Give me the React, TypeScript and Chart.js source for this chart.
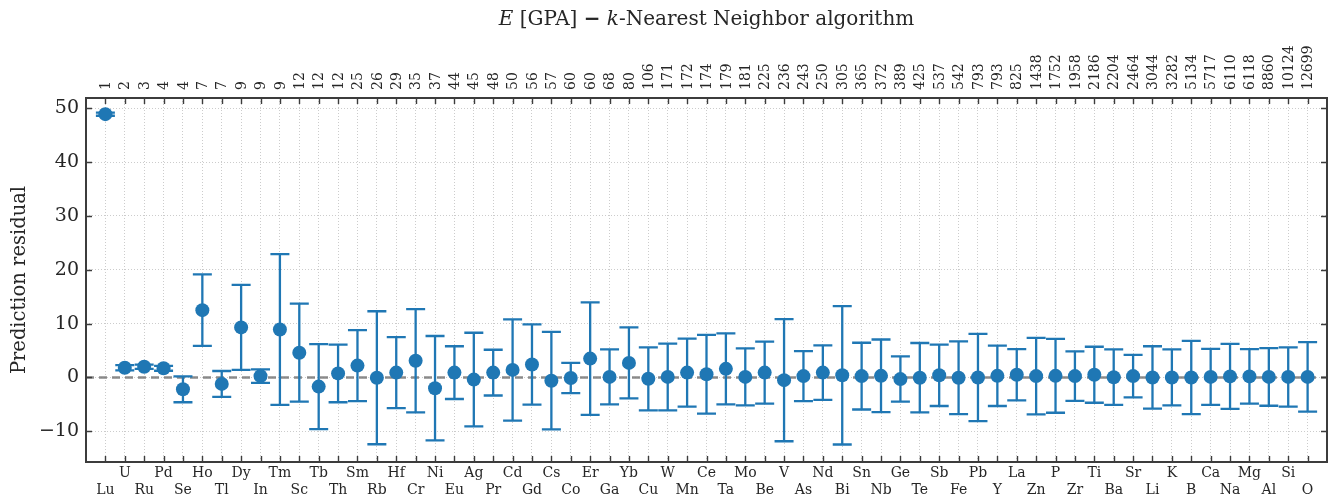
import React, { useEffect, useRef } from "react";
import { Chart, registerables } from "chart.js";

Chart.register(...registerables);

const elements = ["Lu","U","Ru","Pd","Se","Ho","Tl","Dy","In","Tm","Sc","Tb","Th","Sm","Rb","Hf","Cr","Ni","Eu","Ag","Pr","Cd","Gd","Cs","Co","Er","Ga","Yb","Cu","W","Mn","Ce","Ta","Mo","Be","V","As","Nd","Bi","Sn","Nb","Ge","Te","Sb","Fe","Pb","Y","La","Zn","P","Zr","Ti","Ba","Sr","Li","K","B","Ca","Na","Mg","Al","Si","O"];

const counts = [1,2,3,4,4,7,7,9,9,9,12,12,12,25,26,29,35,37,44,45,48,50,56,57,60,60,68,80,106,171,172,174,179,181,225,236,243,250,305,365,372,389,425,537,542,793,793,825,1438,1752,1958,2186,2204,2464,3044,3282,5134,5717,6110,6118,8860,10124,12699];

const residuals = [48.9,1.8,2.0,1.7,-2.2,12.5,-1.2,9.3,0.25,8.9,4.6,-1.7,0.75,2.2,-0.05,0.9,3.1,-2.0,0.9,-0.4,0.9,1.4,2.4,-0.6,-0.1,3.5,0.1,2.7,-0.25,0.1,0.9,0.6,1.6,0.1,0.9,-0.5,0.25,0.9,0.4,0.25,0.3,-0.3,-0.05,0.4,-0.05,0.0,0.3,0.5,0.25,0.3,0.25,0.5,0.05,0.25,0.0,0.0,0.0,0.1,0.2,0.2,0.1,0.1,0.1];

const errors = [0.3,0.5,0.4,0.45,2.4,6.65,2.4,7.9,1.25,14.0,9.1,7.9,5.35,6.6,12.35,6.6,9.6,9.7,4.9,8.7,4.25,9.4,7.45,9.05,2.8,10.45,5.1,6.6,5.85,6.2,6.3,7.3,6.6,5.3,5.75,11.35,4.65,5.05,12.85,6.2,6.75,4.2,6.45,5.7,6.75,8.1,5.6,4.75,7.1,6.85,4.6,5.2,5.15,3.95,5.8,5.2,6.8,5.2,6.05,5.05,5.35,5.5,6.45];

const yTickValues = [-10, 0, 10, 20, 30, 40, 50];

const FONT = "'DejaVu Serif', serif";
const BLUE = "#1f77b4";
const TEXT = "#262626";
const SPINE = "#3c3c3c";
const GRID = "#cccccc";

const overlay = {
  id: "overlay",
  beforeDatasetsDraw(chart: any) {
    const { ctx, chartArea, scales } = chart;
    const x = scales.x;
    const y = scales.y;
    ctx.save();
    ctx.beginPath();
    ctx.rect(chartArea.left, chartArea.top, chartArea.right - chartArea.left, chartArea.bottom - chartArea.top);
    ctx.clip();
    // zero line
    const y0 = y.getPixelForValue(0);
    ctx.strokeStyle = "rgba(120,120,120,0.85)";
    ctx.lineWidth = 2.6;
    ctx.setLineDash([8, 5]);
    ctx.beginPath();
    ctx.moveTo(chartArea.left, y0);
    ctx.lineTo(chartArea.right, y0);
    ctx.stroke();
    ctx.setLineDash([]);
    // error bars
    ctx.strokeStyle = BLUE;
    ctx.lineWidth = 2.3;
    ctx.lineCap = "butt";
    residuals.forEach((r, i) => {
      const px = x.getPixelForValue(i);
      const pt = y.getPixelForValue(r + errors[i]);
      const pb = y.getPixelForValue(r - errors[i]);
      ctx.beginPath();
      ctx.moveTo(px, pt);
      ctx.lineTo(px, pb);
      ctx.moveTo(px - 9.5, pt);
      ctx.lineTo(px + 9.5, pt);
      ctx.moveTo(px - 9.5, pb);
      ctx.lineTo(px + 9.5, pb);
      ctx.stroke();
    });
    ctx.restore();
  },
  afterDraw(chart: any) {
    const { ctx, chartArea, scales } = chart;
    const x = scales.x;
    const y = scales.y;
    const { left, right, top, bottom } = chartArea;
    ctx.save();
    // inward ticks
    ctx.strokeStyle = SPINE;
    ctx.lineWidth = 1.4;
    ctx.beginPath();
    elements.forEach((_, i) => {
      const px = Math.round(x.getPixelForValue(i)) + 0.5;
      ctx.moveTo(px, top);
      ctx.lineTo(px, top + 6);
      ctx.moveTo(px, bottom);
      ctx.lineTo(px, bottom - 6);
    });
    yTickValues.forEach((v) => {
      const py = Math.round(y.getPixelForValue(v)) + 0.5;
      ctx.moveTo(left, py);
      ctx.lineTo(left + 6, py);
      ctx.moveTo(right, py);
      ctx.lineTo(right - 6, py);
    });
    ctx.stroke();
    // spines
    ctx.lineWidth = 2;
    ctx.strokeStyle = SPINE;
    ctx.strokeRect(left, top, right - left, bottom - top);

    // top axis labels (sample counts), rotated
    ctx.fillStyle = TEXT;
    ctx.font = `14px ${FONT}`;
    counts.forEach((c, i) => {
      const px = x.getPixelForValue(i);
      ctx.save();
      ctx.translate(px + 1, top - 8);
      ctx.rotate(-Math.PI / 2);
      ctx.textAlign = "left";
      ctx.textBaseline = "middle";
      ctx.fillText(String(c), 0, 0);
      ctx.restore();
    });

    // title with italic parts
    const parts = [
      { t: "E", f: `italic 20px ${FONT}` },
      { t: " [GPA] ", f: `20px ${FONT}` },
      { t: "\u2212", f: `bold 20px ${FONT}` },
      { t: " ", f: `20px ${FONT}` },
      { t: "k", f: `italic 20px ${FONT}` },
      { t: "-Nearest Neighbor algorithm", f: `20px ${FONT}` },
    ];
    let total = 0;
    parts.forEach((p) => {
      ctx.font = p.f;
      total += ctx.measureText(p.t).width;
    });
    let cx = (left + right) / 2 - total / 2;
    ctx.fillStyle = TEXT;
    ctx.textBaseline = "middle";
    ctx.textAlign = "left";
    parts.forEach((p) => {
      ctx.font = p.f;
      ctx.fillText(p.t, cx, 20);
      cx += ctx.measureText(p.t).width;
    });

    // y axis label
    ctx.save();
    ctx.translate(20, (top + bottom) / 2);
    ctx.rotate(-Math.PI / 2);
    ctx.font = `19.5px ${FONT}`;
    ctx.textAlign = "center";
    ctx.textBaseline = "middle";
    ctx.fillText("Prediction residual", 0, 0);
    ctx.restore();
    ctx.restore();
  },
};

export default function App() {
  const ref = useRef<HTMLCanvasElement | null>(null);
  useEffect(() => {
    if (!ref.current) return;
    const chart = new Chart(ref.current, {
      type: "scatter",
      data: {
        datasets: [
          {
            data: residuals.map((r, i) => ({ x: i, y: r })),
            backgroundColor: BLUE,
            borderColor: BLUE,
            pointRadius: 7,
            pointHoverRadius: 7,
            borderWidth: 0,
          },
        ],
      },
      options: {
        animation: false,
        responsive: false,
        devicePixelRatio: 1,
        layout: { padding: 0 },
        plugins: { legend: { display: false }, title: { display: false }, tooltip: { enabled: false } },
        scales: {
          x: {
            type: "linear",
            position: "bottom",
            min: -1,
            max: 63,
            afterBuildTicks: (s: any) => {
              s.ticks = elements.map((_, i) => ({ value: i }));
            },
            afterFit: (s: any) => {
              s.height = 37;
            },
            grid: { display: true, drawTicks: false, color: GRID, lineWidth: 1 },
            border: { display: false, dash: [1, 2] },
            ticks: {
              autoSkip: false,
              maxRotation: 0,
              minRotation: 0,
              padding: 3,
              color: TEXT,
              font: { family: FONT, size: 14 },
              callback: (v: any) => {
                const i = Math.round(Number(v));
                const name = elements[i] ?? "";
                return i % 2 === 0 ? ["", name] : [name, ""];
              },
            },
          },
          x2: {
            type: "linear",
            position: "top",
            min: -1,
            max: 63,
            afterFit: (s: any) => {
              s.height = 98;
            },
            grid: { display: false, drawOnChartArea: false, drawTicks: false },
            border: { display: false },
            ticks: { display: false },
          },
          y: {
            type: "linear",
            position: "left",
            min: -15.7,
            max: 51.9,
            afterBuildTicks: (s: any) => {
              s.ticks = yTickValues.map((v) => ({ value: v }));
            },
            afterFit: (s: any) => {
              s.width = 86;
            },
            grid: { display: true, drawTicks: false, color: GRID, lineWidth: 1 },
            border: { display: false, dash: [1, 2] },
            ticks: {
              padding: 7,
              color: TEXT,
              font: { family: FONT, size: 19 },
              callback: (v: any) => (Number(v) < 0 ? "\u2212" + Math.abs(Number(v)) : String(v)),
            },
          },
          y2: {
            type: "linear",
            position: "right",
            min: -15.7,
            max: 51.9,
            afterFit: (s: any) => {
              s.width = 8;
            },
            grid: { display: false, drawOnChartArea: false, drawTicks: false },
            border: { display: false },
            ticks: { display: false },
          },
        },
      } as any,
      plugins: [overlay],
    });
    return () => chart.destroy();
  }, []);
  return (
    <div style={{ position: "fixed", left: 0, top: 0, width: 1335, height: 499, background: "#fff" }}>
      <canvas ref={ref} width={1335} height={499} />
    </div>
  );
}
